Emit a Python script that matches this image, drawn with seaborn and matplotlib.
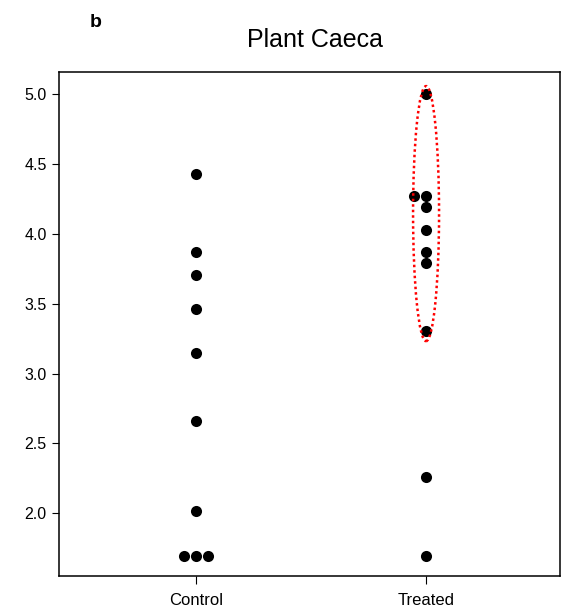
import matplotlib
matplotlib.use("Agg")
import matplotlib.pyplot as plt
from matplotlib.patches import Ellipse
import seaborn as sns
import pandas as pd

groups = ["Control", "Treated"]
control_vals = [4.43, 3.87, 3.705, 3.465, 3.145, 2.66, 2.015, 1.695, 1.695, 1.695]
treated_vals = [5.0, 4.27, 4.27, 4.19, 4.03, 3.87, 3.79, 3.305, 2.26, 1.695]
yticks = [2.0, 2.5, 3.0, 3.5, 4.0, 4.5, 5.0]

df = pd.DataFrame({
    "group": ["Control"] * len(control_vals) + ["Treated"] * len(treated_vals),
    "value": control_vals + treated_vals,
})

sns.set_style("white")
plt.rcParams["font.family"] = ["Liberation Sans", "DejaVu Sans"]
plt.rcParams["text.color"] = "black"
plt.rcParams["xtick.color"] = "black"
plt.rcParams["ytick.color"] = "black"

fig = plt.figure(figsize=(5.63, 6.16), dpi=100)
ax = fig.add_axes([0.105, 0.065, 0.89, 0.818])

sns.swarmplot(data=df, x="group", y="value", order=groups, color="black",
              size=8, ax=ax, linewidth=0)

ax.set_xlim(-0.595, 1.583)
ax.set_ylim(1.55, 5.16)
ax.set_yticks(yticks)
ax.set_yticklabels([f"{v:.1f}" for v in yticks], fontsize=11.5)
ax.set_xticks([0, 1])
ax.set_xticklabels(groups, fontsize=12)
ax.set_xlabel("")
ax.set_ylabel("")

for s in ax.spines.values():
    s.set_visible(True)
    s.set_color("black")
    s.set_linewidth(1.1)

ax.tick_params(axis="y", left=True, direction="out", length=5, width=0.8,
               color="black", labelcolor="black", pad=4)
ax.tick_params(axis="x", bottom=True, direction="out", length=6, width=0.8,
               color="black", labelcolor="black", pad=6)

ell = Ellipse((1.0, 4.146), width=0.113, height=1.827, fill=False,
              edgecolor="red", linestyle=(0, (1, 1.2)), linewidth=1.8, zorder=5)
ax.add_patch(ell)

fig.text(0.559, 0.924, "Plant Caeca", ha="center", va="baseline", fontsize=18,
         color="black")
fig.text(0.170, 0.956, "b", ha="center", va="baseline", fontsize=14,
         fontweight="bold", color="black")

fig.savefig("out.png", dpi=100)
